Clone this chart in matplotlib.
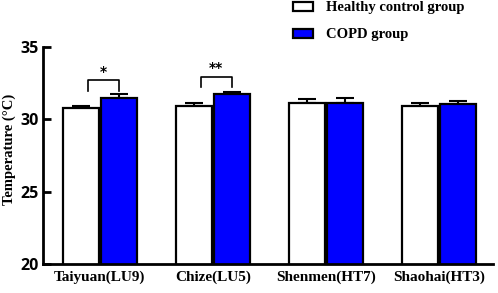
import matplotlib
matplotlib.use("Agg")
import matplotlib.pyplot as plt
import numpy as np

categories = ["Taiyuan(LU9)", "Chize(LU5)", "Shenmen(HT7)", "Shaohai(HT3)"]
healthy = [30.78, 30.90, 31.15, 30.94]
healthy_err = [0.16, 0.20, 0.25, 0.18]
copd = [31.47, 31.72, 31.12, 31.08]
copd_err = [0.28, 0.20, 0.35, 0.20]
sig_labels = ["*", "**", "", ""]
sig_heights = [32.71, 32.94, None, None]

fig = plt.figure(figsize=(4.98, 2.93), dpi=100)
ax = fig.add_axes([43/498, (293-264)/293, (493-43)/498, (264-47)/293])

x = np.arange(len(categories))
w = 0.32
off = 0.168
serif = "Liberation Serif"

b1 = ax.bar(x - off, healthy, width=w, bottom=0, color="white", edgecolor="black",
            linewidth=1.6, label="Healthy control group", zorder=2)
b2 = ax.bar(x + off, copd, width=w, color="#0000ff", edgecolor="black",
            linewidth=1.6, label="COPD group", zorder=2)
ax.errorbar(x - off, healthy, yerr=[np.zeros(4), healthy_err], fmt="none",
            ecolor="black", elinewidth=1.5, capsize=6.5, capthick=1.5, zorder=1)
ax.errorbar(x + off, copd, yerr=[np.zeros(4), copd_err], fmt="none",
            ecolor="black", elinewidth=1.5, capsize=6.5, capthick=1.5, zorder=1)

for i, (lab, h) in enumerate(zip(sig_labels, sig_heights)):
    if not lab:
        continue
    x0, x1 = x[i] - 0.105, x[i] + 0.165
    ax.plot([x0, x0, x1, x1], [h - 0.72, h, h, h - 0.72], color="black", lw=1.2,
            clip_on=False)
    ax.text((x0 + x1) / 2, h + 0.1, lab, ha="center", va="bottom",
            fontsize=10, fontweight="bold", family="DejaVu Sans")

ax.set_ylim(20, 35)
ax.set_xlim(-0.504, 3.48)
ax.set_yticks([20, 25, 30, 35])
ax.set_xticks(x)
ax.set_xticklabels(categories, family=serif, fontweight="bold", fontsize=11)
for t in ax.get_yticklabels():
    t.set_fontweight("bold")
    t.set_fontsize(11.5)
    t.set_family("Open Sans")
ax.tick_params(axis="y", direction="in", length=6, width=2, pad=3)
ax.tick_params(axis="x", length=0, pad=5)
for s in ["top", "right"]:
    ax.spines[s].set_visible(False)
ax.spines["left"].set_linewidth(2)
ax.spines["bottom"].set_linewidth(2)

ax.set_ylabel("Temperature (°C)", family=serif, fontweight="bold", fontsize=10.5)
ax.yaxis.set_label_coords(-27/450, 0.53)

fig.legend(handles=[b1, b2], loc="upper left", bbox_to_anchor=(292/498, 1.0),
           frameon=False, prop={"family": serif, "weight": "bold", "size": 10.5},
           handlelength=1.35, handleheight=0.55, handletextpad=0.85, labelspacing=0.95,
           borderaxespad=0, borderpad=0.1)

fig.savefig("out.png", dpi=100)
